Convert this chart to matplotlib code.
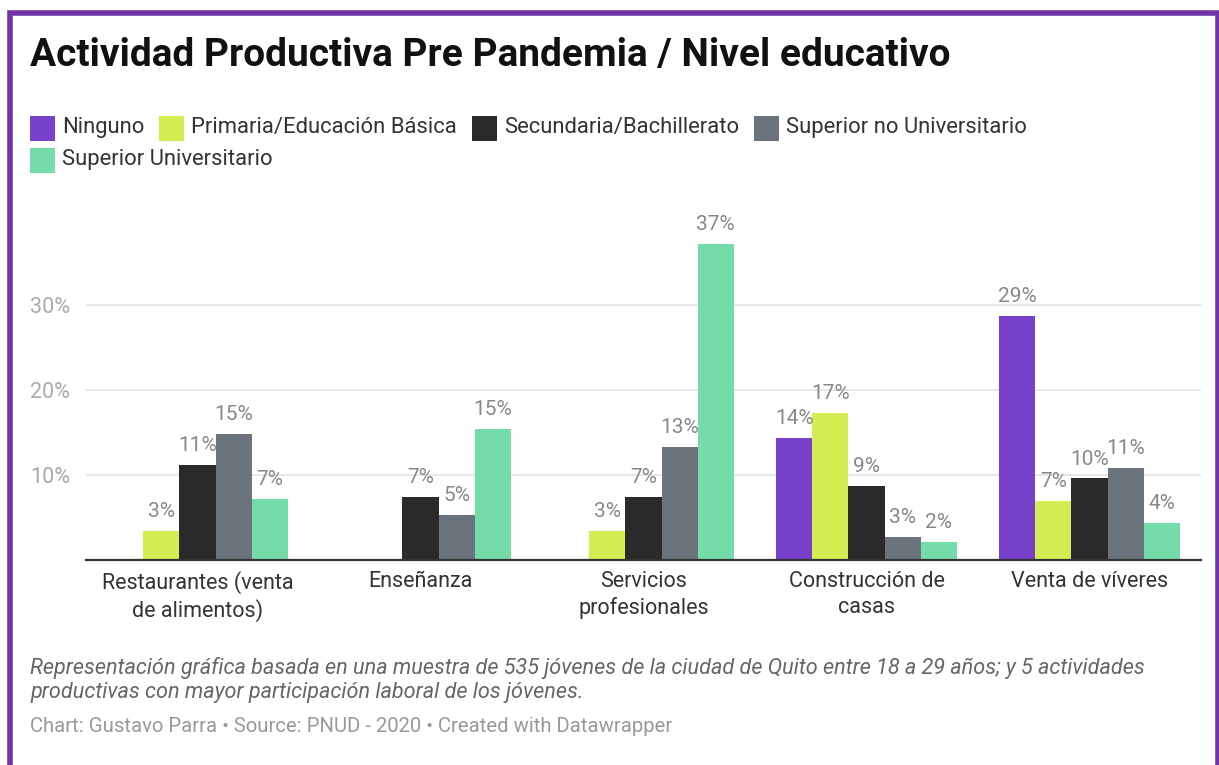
import matplotlib
matplotlib.use("Agg")
import matplotlib.pyplot as plt
from matplotlib.patches import Rectangle
import numpy as np

plt.rcParams['font.family'] = ['Roboto', 'DejaVu Sans']

categories = ["Restaurantes (venta\nde alimentos)", "Enseñanza", "Servicios\nprofesionales",
              "Construcción de\ncasas", "Venta de víveres"]
series = ["Ninguno", "Primaria/Educación Básica", "Secundaria/Bachillerato",
          "Superior no Universitario", "Superior Universitario"]
colors = ["#7741cb", "#d4ed52", "#2a2a2a", "#6b747c", "#74dca8"]

ninguno = [np.nan, np.nan, np.nan, 14.4, 28.7]
primaria = [3.4, np.nan, 3.4, 17.3, 7.0]
secundaria = [11.2, 7.4, 7.4, 8.7, 9.6]
sup_no_univ = [14.8, 5.3, 13.3, 2.7, 10.8]
sup_univ = [7.2, 15.4, 37.2, 2.1, 4.4]
values = [ninguno, primaria, secundaria, sup_no_univ, sup_univ]

yticks = [10, 20, 30]
ytick_labels = ["10%", "20%", "30%"]

W, H = 1219, 765
fig = plt.figure(figsize=(W / 100, H / 100), dpi=100)

def fx(px):
    return px / W

def fy(py):
    return 1 - py / H

# purple frame
fig.patches.append(Rectangle((fx(9.5), fy(800)), fx(1208), fy(12.5) - fy(800),
                             transform=fig.transFigure, fill=False,
                             edgecolor="#7034a8", linewidth=4, zorder=10))

# title
fig.text(fx(30), fy(55), "Actividad Productiva Pre Pandemia / Nivel educativo",
         fontsize=28, fontweight="bold", color="#111111", va="center", ha="left")

# legend
renderer = fig.canvas.get_renderer()
lx, ly = 30, 128
for name, c in zip(series, colors):
    t = fig.text(0, 0, name, fontsize=15.8, color="#333333", va="center", ha="left")
    tw = t.get_window_extent(renderer).width
    if lx + 32 + tw > 1190:
        lx = 30
        ly += 32
    fig.patches.append(Rectangle((fx(lx), fy(ly + 12.5)), fx(25), fy(0) - fy(25),
                                 transform=fig.transFigure, facecolor=c, edgecolor="none"))
    t.set_position((fx(lx + 32), fy(ly)))
    lx += 32 + tw + 15

ax = fig.add_axes([fx(86), fy(560), fx(1201) - fx(86), fy(220) - fy(560)])
x = np.arange(len(categories))
w = 0.162
for i, (name, vals, c) in enumerate(zip(series, values, colors)):
    vals = np.array(vals, dtype=float)
    xs = x + (i - 2) * w
    ax.bar(xs, np.nan_to_num(vals), width=w, color=c, label=name, zorder=3, linewidth=0)
    for xi, v in zip(xs, vals):
        if not np.isnan(v):
            ax.annotate(f"{int(round(v))}%", (xi, v), xytext=(0, 10), textcoords="offset points",
                        ha="center", va="baseline", fontsize=15, color="#888888", zorder=4)

ax.set_xlim(-0.5, 4.5)
ax.set_ylim(0, 40)
ax.set_yticks(yticks)
ax.set_yticklabels(ytick_labels)
ax.set_xticks(x)
ax.set_xticklabels(categories, fontsize=15.5, color="#333333", linespacing=1.3)
ax.tick_params(axis="x", length=0, pad=8)
ax.tick_params(axis="y", length=0, pad=40.3, labelsize=15.5, labelcolor="#aaaaaa")
for lab in ax.get_yticklabels():
    lab.set_horizontalalignment("left")
ax.grid(axis="y", color="#e3e3e3", linewidth=1.2, zorder=0)
for s in ["top", "right", "left"]:
    ax.spines[s].set_visible(False)
ax.spines["bottom"].set_color("#333333")
ax.spines["bottom"].set_linewidth(1.6)
ax.spines["bottom"].set_zorder(5)

# notes
fig.text(fx(30), fy(680), "Representación gráfica basada en una muestra de 535 jóvenes de la ciudad de Quito entre 18 a 29 años; y 5 actividades\nproductivas con mayor participación laboral de los jóvenes.",
         fontsize=15.6, fontstyle="italic", color="#666666", va="center", ha="left", linespacing=1.15)
fig.text(fx(30), fy(727), "Chart: Gustavo Parra • Source: PNUD - 2020 • Created with Datawrapper",
         fontsize=14.6, color="#999999", va="center", ha="left")

fig.savefig("out.png", dpi=100, facecolor="white")
